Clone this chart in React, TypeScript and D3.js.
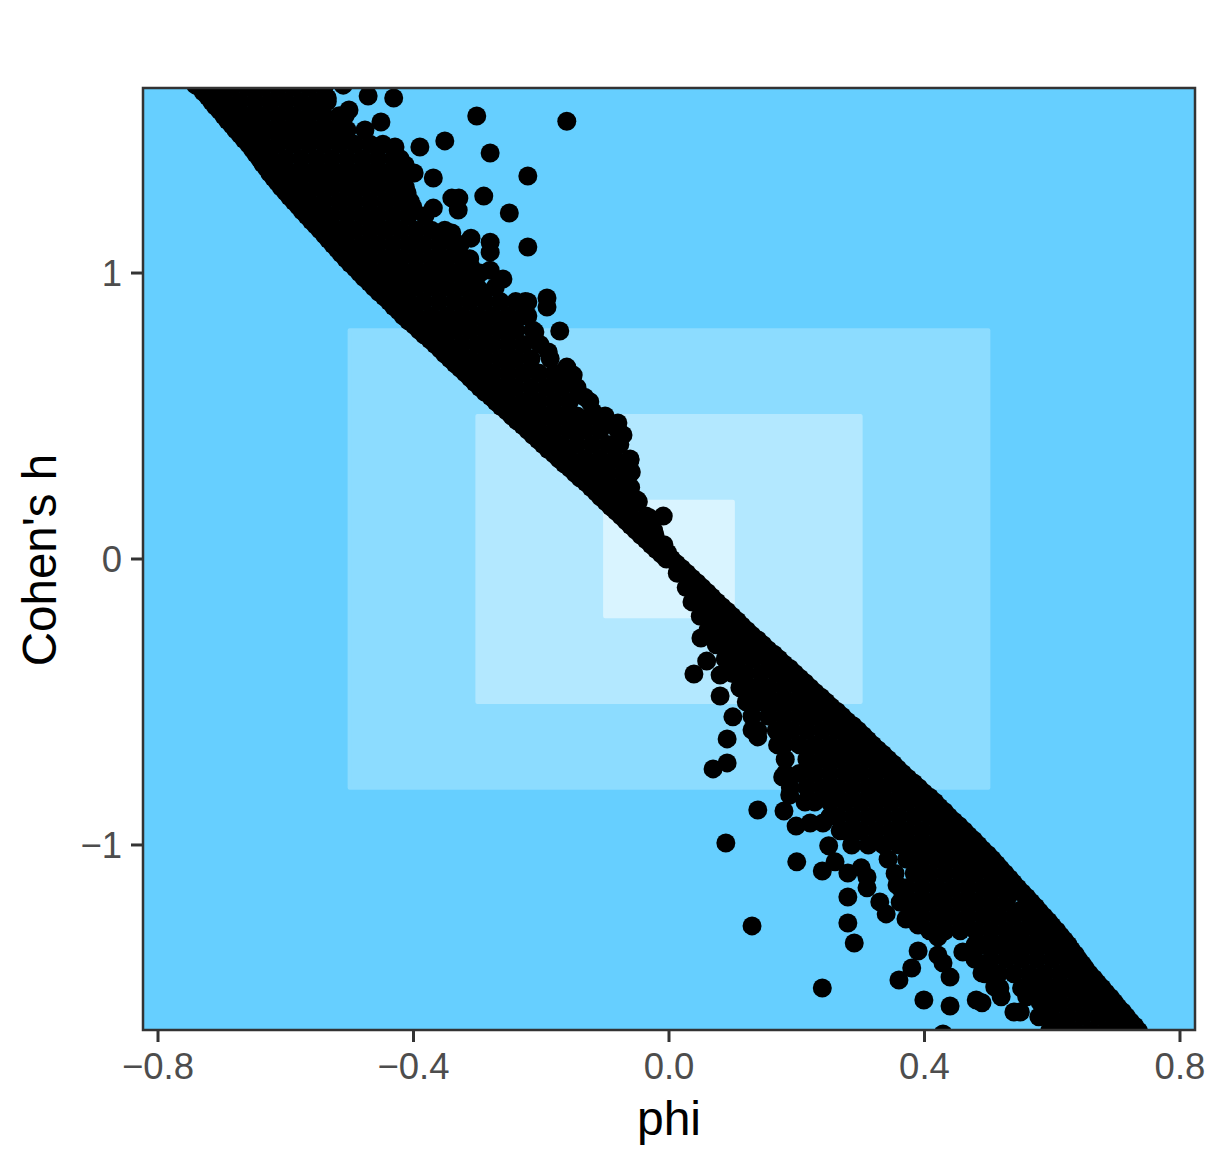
import React from "react";
import * as d3 from "d3";

const xTicks = [-0.8, -0.4, 0, 0.4, 0.8];
const yTicks = [-1, 0, 1];
const xLabel = "phi";
const yLabel = "Cohen's h";

const zonePhi = [0.5, 0.3, 0.1];
const zoneH = [0.8, 0.5, 0.2];
const zoneFill = ["#8CDCFF", "#B3E8FF", "#D9F4FF"];

// Dense band, upper-left half: one h level and the phi values read across it
const bandLevelsA: [number, number[]][] = [
  [1.65, [-0.735, -0.708, -0.684, -0.66, -0.636, -0.612, -0.588, -0.564, -0.54]],
  [1.6, [-0.716, -0.696, -0.672, -0.648, -0.624, -0.6, -0.576, -0.552, -0.535]],
  [1.55, [-0.697, -0.684, -0.66, -0.636, -0.612, -0.588, -0.564, -0.54, -0.516, -0.507]],
  [1.5, [-0.678, -0.648, -0.624, -0.6, -0.576, -0.552, -0.528, -0.504, -0.476]],
  [1.45, [-0.658, -0.636, -0.612, -0.588, -0.564, -0.54, -0.516, -0.492, -0.468, -0.448]],
  [1.4, [-0.641, -0.624, -0.6, -0.576, -0.552, -0.528, -0.504, -0.48, -0.456, -0.432, -0.421]],
  [1.35, [-0.625, -0.612, -0.588, -0.564, -0.54, -0.516, -0.492, -0.468, -0.444, -0.42, -0.402]],
  [1.3, [-0.607, -0.576, -0.552, -0.528, -0.504, -0.48, -0.456, -0.432, -0.413]],
  [1.25, [-0.587, -0.564, -0.54, -0.516, -0.492, -0.468, -0.444, -0.42, -0.405]],
  [1.2, [-0.567, -0.552, -0.528, -0.504, -0.48, -0.456, -0.432, -0.408, -0.382]],
  [1.15, [-0.546, -0.516, -0.492, -0.468, -0.444, -0.42, -0.396, -0.372, -0.351]],
  [1.1, [-0.526, -0.504, -0.48, -0.456, -0.432, -0.408, -0.384, -0.36, -0.336, -0.327]],
  [1.05, [-0.506, -0.492, -0.468, -0.444, -0.42, -0.396, -0.372, -0.348, -0.324, -0.312]],
  [1.0, [-0.484, -0.456, -0.432, -0.408, -0.384, -0.36, -0.336, -0.312, -0.296]],
  [0.95, [-0.462, -0.444, -0.42, -0.396, -0.372, -0.348, -0.324, -0.3, -0.272]],
  [0.9, [-0.438, -0.408, -0.384, -0.36, -0.336, -0.312, -0.288, -0.264, -0.24, -0.225]],
  [0.85, [-0.416, -0.396, -0.372, -0.348, -0.324, -0.3, -0.276, -0.252, -0.228, -0.221]],
  [0.8, [-0.391, -0.36, -0.336, -0.312, -0.288, -0.264, -0.24, -0.213]],
  [0.75, [-0.366, -0.348, -0.324, -0.3, -0.276, -0.252, -0.228, -0.202]],
  [0.7, [-0.343, -0.312, -0.288, -0.264, -0.24, -0.216, -0.186]],
  [0.65, [-0.319, -0.3, -0.276, -0.252, -0.228, -0.204, -0.18, -0.158]],
  [0.6, [-0.296, -0.264, -0.24, -0.216, -0.192, -0.168, -0.144]],
  [0.55, [-0.271, -0.252, -0.228, -0.204, -0.18, -0.156, -0.124]],
  [0.5, [-0.246, -0.216, -0.192, -0.168, -0.144, -0.12, -0.1]],
  [0.45, [-0.221, -0.204, -0.18, -0.156, -0.132, -0.108, -0.08]],
  [0.4, [-0.197, -0.168, -0.144, -0.12, -0.096, -0.077]],
  [0.35, [-0.172, -0.156, -0.132, -0.108, -0.084, -0.061]],
  [0.3, [-0.147, -0.12, -0.096, -0.072, -0.061]],
  [0.25, [-0.122, -0.108, -0.084, -0.06]],
  [0.2, [-0.099, -0.072, -0.048]],
  [0.15, [-0.075, -0.06, -0.036]],
  [0.1, [-0.052, -0.024]],
  [0.05, [-0.028, -0.008]],
  [0, [-0.004, 0.004]],
];

// Dense band, lower-right half
const bandLevelsB: [number, number[]][] = [
  [-0.05, [0.013, 0.028]],
  [-0.1, [0.027, 0.052]],
  [-0.15, [0.036, 0.06, 0.075]],
  [-0.2, [0.049, 0.072, 0.099]],
  [-0.25, [0.061, 0.084, 0.108, 0.122]],
  [-0.3, [0.074, 0.096, 0.12, 0.147]],
  [-0.35, [0.088, 0.108, 0.132, 0.156, 0.172]],
  [-0.4, [0.099, 0.12, 0.144, 0.168, 0.197]],
  [-0.45, [0.111, 0.132, 0.156, 0.18, 0.204, 0.221]],
  [-0.5, [0.121, 0.144, 0.168, 0.192, 0.216, 0.246]],
  [-0.55, [0.13, 0.156, 0.18, 0.204, 0.228, 0.252, 0.271]],
  [-0.6, [0.139, 0.168, 0.192, 0.216, 0.24, 0.264, 0.296]],
  [-0.65, [0.17, 0.18, 0.204, 0.228, 0.252, 0.276, 0.3, 0.319]],
  [-0.7, [0.182, 0.216, 0.24, 0.264, 0.288, 0.312, 0.343]],
  [-0.75, [0.182, 0.204, 0.228, 0.252, 0.276, 0.3, 0.324, 0.348, 0.366]],
  [-0.8, [0.19, 0.216, 0.24, 0.264, 0.288, 0.312, 0.336, 0.36, 0.391]],
  [-0.85, [0.213, 0.228, 0.252, 0.276, 0.3, 0.324, 0.348, 0.372, 0.396, 0.416]],
  [-0.9, [0.252, 0.264, 0.288, 0.312, 0.336, 0.36, 0.384, 0.408, 0.438]],
  [-0.95, [0.268, 0.276, 0.3, 0.324, 0.348, 0.372, 0.396, 0.42, 0.444, 0.462]],
  [-1.0, [0.286, 0.312, 0.336, 0.36, 0.384, 0.408, 0.432, 0.456, 0.484]],
  [-1.05, [0.343, 0.372, 0.396, 0.42, 0.444, 0.468, 0.492, 0.506]],
  [-1.1, [0.354, 0.384, 0.408, 0.432, 0.456, 0.48, 0.504, 0.526]],
  [-1.15, [0.362, 0.372, 0.396, 0.42, 0.444, 0.468, 0.492, 0.516, 0.546]],
  [-1.2, [0.362, 0.384, 0.408, 0.432, 0.456, 0.48, 0.504, 0.528, 0.567]],
  [-1.25, [0.375, 0.396, 0.42, 0.444, 0.468, 0.492, 0.516, 0.54, 0.564, 0.587]],
  [-1.3, [0.408, 0.432, 0.456, 0.48, 0.504, 0.528, 0.552, 0.576, 0.607]],
  [-1.35, [0.479, 0.492, 0.516, 0.54, 0.564, 0.588, 0.612, 0.625]],
  [-1.4, [0.479, 0.504, 0.528, 0.552, 0.576, 0.6, 0.624, 0.641]],
  [-1.45, [0.495, 0.516, 0.54, 0.564, 0.588, 0.612, 0.636, 0.658]],
  [-1.5, [0.518, 0.552, 0.576, 0.6, 0.624, 0.648, 0.678]],
  [-1.55, [0.581, 0.588, 0.612, 0.636, 0.66, 0.684, 0.697]],
  [-1.6, [0.589, 0.624, 0.648, 0.672, 0.696, 0.716]],
  [-1.65, [0.596, 0.612, 0.636, 0.66, 0.684, 0.708, 0.735]],
];

// Points packed along the straight outer rim of the band
const rimLeft: [number, number][] = [
  [-0.729, 1.633], [-0.722, 1.617], [-0.71, 1.583], [-0.703, 1.567], [-0.691, 1.533], [-0.684, 1.517],
  [-0.671, 1.483], [-0.665, 1.467], [-0.652, 1.433], [-0.647, 1.417], [-0.636, 1.383], [-0.63, 1.367],
  [-0.619, 1.333], [-0.613, 1.317], [-0.6, 1.283], [-0.594, 1.267], [-0.58, 1.233], [-0.574, 1.217],
  [-0.56, 1.183], [-0.553, 1.167], [-0.539, 1.133], [-0.533, 1.117], [-0.519, 1.083], [-0.513, 1.067],
  [-0.499, 1.033], [-0.491, 1.017], [-0.477, 0.983], [-0.469, 0.967], [-0.454, 0.933], [-0.446, 0.917],
  [-0.431, 0.883], [-0.423, 0.867], [-0.408, 0.833], [-0.399, 0.817], [-0.383, 0.783], [-0.374, 0.767],
  [-0.358, 0.733], [-0.351, 0.717], [-0.335, 0.683], [-0.327, 0.667], [-0.311, 0.633], [-0.304, 0.617],
  [-0.288, 0.583], [-0.279, 0.567], [-0.263, 0.533], [-0.254, 0.517], [-0.238, 0.483], [-0.229, 0.467],
  [-0.213, 0.433], [-0.205, 0.417], [-0.189, 0.383], [-0.18, 0.367], [-0.164, 0.333], [-0.155, 0.317],
  [-0.139, 0.283], [-0.13, 0.267], [-0.114, 0.233], [-0.107, 0.217], [-0.091, 0.183], [-0.083, 0.167],
  [-0.067, 0.133], [-0.06, 0.117], [-0.044, 0.083], [-0.036, 0.067], [-0.02, 0.033], [-0.012, 0.017],
];

const rimRight: [number, number][] = [
  [0.012, -0.017], [0.02, -0.033], [0.036, -0.067], [0.044, -0.083], [0.06, -0.117], [0.067, -0.133],
  [0.083, -0.167], [0.091, -0.183], [0.107, -0.217], [0.114, -0.233], [0.13, -0.267], [0.139, -0.283],
  [0.155, -0.317], [0.164, -0.333], [0.18, -0.367], [0.189, -0.383], [0.205, -0.417], [0.213, -0.433],
  [0.229, -0.467], [0.238, -0.483], [0.254, -0.517], [0.263, -0.533], [0.279, -0.567], [0.288, -0.583],
  [0.304, -0.617], [0.311, -0.633], [0.327, -0.667], [0.335, -0.683], [0.351, -0.717], [0.358, -0.733],
  [0.374, -0.767], [0.383, -0.783], [0.399, -0.817], [0.408, -0.833], [0.423, -0.867], [0.431, -0.883],
  [0.446, -0.917], [0.454, -0.933], [0.469, -0.967], [0.477, -0.983], [0.491, -1.017], [0.499, -1.033],
  [0.513, -1.067], [0.519, -1.083], [0.533, -1.117], [0.539, -1.133], [0.553, -1.167], [0.56, -1.183],
  [0.574, -1.217], [0.58, -1.233], [0.594, -1.267], [0.6, -1.283], [0.613, -1.317], [0.619, -1.333],
  [0.63, -1.367], [0.636, -1.383], [0.647, -1.417], [0.652, -1.433], [0.665, -1.467], [0.671, -1.483],
  [0.684, -1.517], [0.691, -1.533], [0.703, -1.567], [0.71, -1.583], [0.722, -1.617], [0.729, -1.633],
];

// A second line of points just inside each rim
const innerRimLeft: [number, number][] = [
  [-0.701, 1.625], [-0.682, 1.575], [-0.663, 1.525], [-0.644, 1.475], [-0.626, 1.425], [-0.609, 1.375],
  [-0.592, 1.325], [-0.573, 1.275], [-0.553, 1.225], [-0.532, 1.175], [-0.512, 1.125], [-0.492, 1.075],
  [-0.471, 1.025], [-0.449, 0.975], [-0.426, 0.925], [-0.403, 0.875], [-0.379, 0.825], [-0.354, 0.775],
  [-0.33, 0.725], [-0.307, 0.675], [-0.283, 0.625], [-0.259, 0.575], [-0.234, 0.525], [-0.209, 0.475],
  [-0.185, 0.425], [-0.16, 0.375], [-0.135, 0.325], [-0.11, 0.275], [-0.086, 0.225], [-0.063, 0.175],
  [-0.04, 0.125],
];

const innerRimRight: [number, number][] = [
  [0.04, -0.125], [0.063, -0.175], [0.086, -0.225], [0.11, -0.275], [0.135, -0.325], [0.16, -0.375],
  [0.185, -0.425], [0.209, -0.475], [0.234, -0.525], [0.259, -0.575], [0.283, -0.625], [0.307, -0.675],
  [0.33, -0.725], [0.354, -0.775], [0.379, -0.825], [0.403, -0.875], [0.426, -0.925], [0.449, -0.975],
  [0.471, -1.025], [0.492, -1.075], [0.512, -1.125], [0.532, -1.175], [0.553, -1.225], [0.573, -1.275],
  [0.592, -1.325], [0.609, -1.375], [0.626, -1.425], [0.644, -1.475], [0.663, -1.525], [0.682, -1.575],
  [0.701, -1.625],
];

// Separately readable points on the fringe of the band
const fringeUpper: [number, number][] = [
  [-0.741, 1.657], [-0.51, 1.657], [-0.535, 1.612], [-0.551, 1.594], [-0.501, 1.57], [-0.471, 1.619],
  [-0.431, 1.612], [-0.451, 1.528], [-0.39, 1.441], [-0.429, 1.441], [-0.351, 1.462], [-0.301, 1.549],
  [-0.16, 1.531], [-0.28, 1.42], [-0.369, 1.332], [-0.399, 1.35], [-0.413, 1.378], [-0.221, 1.339],
  [-0.29, 1.269], [-0.25, 1.21], [-0.34, 1.262], [-0.329, 1.262], [-0.33, 1.22], [-0.369, 1.227],
  [-0.41, 1.28], [-0.401, 1.231], [-0.34, 1.14], [-0.221, 1.091], [-0.31, 1.122], [-0.28, 1.108],
  [-0.28, 1.073], [-0.28, 1.01], [-0.31, 1.021], [-0.26, 0.979], [-0.191, 0.913], [-0.191, 0.881],
  [-0.221, 0.899], [-0.291, 0.93], [-0.171, 0.797], [-0.21, 0.794], [-0.189, 0.724], [-0.16, 0.671],
  [-0.15, 0.643], [-0.174, 0.622], [-0.132, 0.566], [-0.119, 0.514], [-0.1, 0.486], [-0.08, 0.476],
  [-0.072, 0.434], [-0.061, 0.346], [-0.059, 0.304], [-0.066, 0.276], [-0.05, 0.206], [-0.009, 0.15],
  [-0.03, 0.143], [-0.022, 0.084], [-0.002, 0.021],
];

const fringeLower: [number, number][] = [
  [0.05, -0.276], [0.039, -0.402], [0.059, -0.357], [0.08, -0.479], [0.08, -0.406], [0.1, -0.552],
  [0.091, -0.629], [0.091, -0.713], [0.069, -0.734], [0.139, -0.622], [0.13, -0.598], [0.178, -0.643],
  [0.178, -0.762], [0.189, -0.825], [0.139, -0.878], [0.18, -0.881], [0.199, -0.934], [0.221, -0.923],
  [0.241, -0.923], [0.2, -1.059], [0.25, -1.003], [0.24, -1.091], [0.26, -1.059], [0.28, -1.098],
  [0.301, -1.08], [0.31, -1.112], [0.31, -1.15], [0.28, -1.182], [0.28, -1.273], [0.29, -1.343],
  [0.13, -1.283], [0.24, -1.5], [0.089, -0.993], [0.33, -1.199], [0.34, -1.241], [0.357, -1.14],
  [0.371, -1.259], [0.39, -1.28], [0.39, -1.371], [0.38, -1.43], [0.36, -1.472], [0.399, -1.542],
  [0.44, -1.563], [0.481, -1.542], [0.49, -1.552], [0.44, -1.462], [0.421, -1.385], [0.429, -1.413],
  [0.46, -1.374], [0.421, -1.322], [0.429, -1.661], [0.54, -1.584], [0.55, -1.584], [0.52, -1.531],
  [0.49, -1.448], [0.51, -1.497], [0.579, -1.601], [0.56, -1.531], [0.6, -1.566], [0.612, -1.619],
];

const W = 1217;
const H = 1167;
const panel = { left: 143, right: 1195, top: 88, bottom: 1030 };
const FONT = "'Liberation Sans', Arial, Helvetica, sans-serif";
const INK = "#333333";
const TICK_TEXT = "#4D4D4D";

const x = d3.scaleLinear().domain([-0.8235, 0.8235]).range([panel.left, panel.right]);
const y = d3.scaleLinear().domain([-1.647, 1.647]).range([panel.bottom, panel.top]);

const points: [number, number][] = [
  ...[...bandLevelsA, ...bandLevelsB].flatMap(([h, phis]) => phis.map((p) => [p, h] as [number, number])),
  ...rimLeft,
  ...rimRight,
  ...innerRimLeft,
  ...innerRimRight,
  ...fringeUpper,
  ...fringeLower,
];

const fmt = (v: number, digits: number) => {
  const s = Math.abs(v).toFixed(digits);
  return v < 0 ? `\u2212${s}` : s;
};

export default function App() {
  return (
    <svg
      width={W}
      height={H}
      viewBox={`0 0 ${W} ${H}`}
      style={{ position: "absolute", left: 0, top: 0, background: "#fff" }}
      fontFamily={FONT}
    >
      <defs>
        <clipPath id="panel-clip">
          <rect x={panel.left} y={panel.top} width={panel.right - panel.left} height={panel.bottom - panel.top} />
        </clipPath>
      </defs>
      <rect x={panel.left} y={panel.top} width={panel.right - panel.left} height={panel.bottom - panel.top} fill="#66CFFF" />
      {zonePhi.map((p, i) => (
        <rect
          key={i}
          x={x(-p)}
          y={y(zoneH[i])}
          width={x(p) - x(-p)}
          height={y(-zoneH[i]) - y(zoneH[i])}
          fill={zoneFill[i]}
          stroke={zoneFill[i]}
          strokeWidth={4}
          strokeLinejoin="round"
        />
      ))}
      <g clipPath="url(#panel-clip)">
        {points.map(([p, h], i) => (
          <circle key={i} cx={x(p)} cy={y(h)} r={9.5} fill="#000" />
        ))}
      </g>
      <rect
        x={panel.left}
        y={panel.top}
        width={panel.right - panel.left}
        height={panel.bottom - panel.top}
        fill="none"
        stroke={INK}
        strokeWidth={2.5}
      />
      {xTicks.map((t) => (
        <g key={t}>
          <line x1={x(t)} x2={x(t)} y1={panel.bottom} y2={panel.bottom + 12} stroke={INK} strokeWidth={3} />
          <text x={x(t)} y={1079} textAnchor="middle" fontSize={36.5} fill={TICK_TEXT}>
            {fmt(t, 1)}
          </text>
        </g>
      ))}
      {yTicks.map((t) => (
        <g key={t}>
          <line x1={panel.left - 12} x2={panel.left} y1={y(t)} y2={y(t)} stroke={INK} strokeWidth={3} />
          <text x={panel.left - 21} y={y(t) + 13} textAnchor="end" fontSize={36.5} fill={TICK_TEXT}>
            {fmt(t, 0)}
          </text>
        </g>
      ))}
      <text x={669} y={1135} textAnchor="middle" fontSize={48} fill="#000">
        {xLabel}
      </text>
      <text transform={`translate(56,560) rotate(-90)`} textAnchor="middle" fontSize={47.5} fill="#000">
        {yLabel}
      </text>
    </svg>
  );
}
